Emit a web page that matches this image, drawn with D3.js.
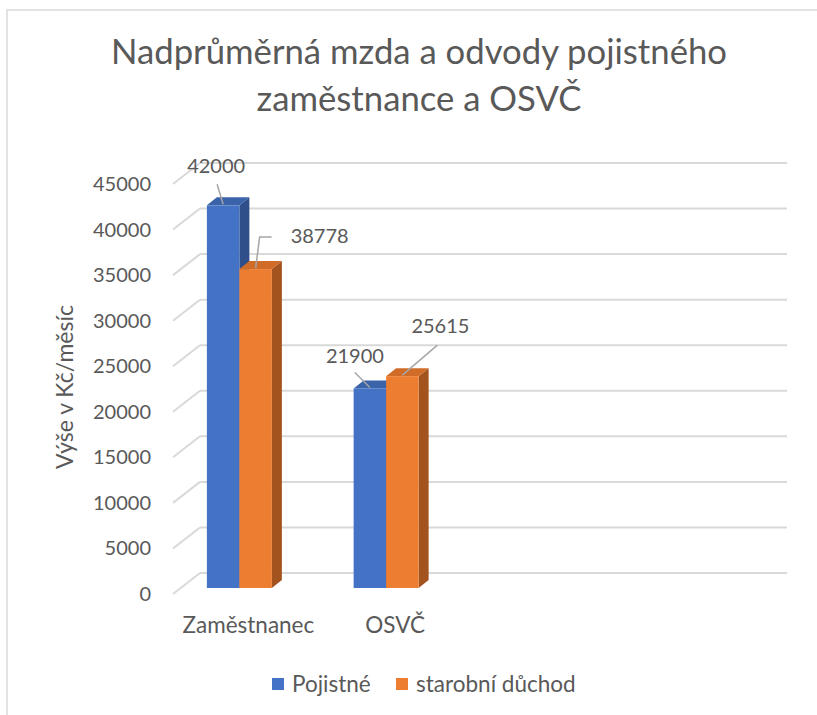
<!DOCTYPE html>
<html>
<head>
<meta charset="utf-8">
<script src="https://cdn.jsdelivr.net/npm/d3@7"></script>
<style>
  body { margin: 0; background: #fff; }
  svg text { font-family: Lato, "Open Sans", sans-serif; fill: #595959; }
</style>
</head>
<body>
<svg id="chart" width="817" height="715"></svg>
<script>
// data
const categories = ["Zaměstnanec", "OSVČ"];
const seriesNames = ["Pojistné", "starobní důchod"];
const pojistne = [42000, 21900];
const duchod = [35000, 23250];
// data labels as printed on the chart
const pojistneLabels = ["42000", "21900"];
const duchodLabels = ["38778", "25615"];
const yTicks = [0, 5000, 10000, 15000, 20000, 25000, 30000, 35000, 40000, 45000];

const colors = {
  "Pojistné": { front: "#4472C4", top: "#3B63AA", side: "#2E4F8A" },
  "starobní důchod": { front: "#ED7D31", top: "#D16B28", side: "#A3531E" },
};

// label placement relative to top-front centre of its bar (leader points, text centre)
const labelLayout = [
  [{ leader: [[0, -1], [-6, -21]], text: [-7, -39] }, { leader: [[0, -1], [-15, -16]], text: [-15, -32] }],
  [{ leader: [[0, -1], [4, -32], [16, -32]], text: [64, -33] }, { leader: [[0, -1], [35, -31]], text: [38, -50] }],
];

const svg = d3.select("#chart");

// frame of the chart area
svg.append("path")
  .attr("d", "M7,716 V10 H818")
  .attr("fill", "none")
  .attr("stroke", "#D9D9D9")
  .attr("stroke-width", 1.5);

// title
const title = svg.append("text")
  .attr("text-anchor", "middle")
  .style("font-size", "34.7px");
title.append("tspan").attr("x", 419).attr("y", 64).text("Nadprůměrná mzda a odvody pojistného");
title.append("tspan").attr("x", 419).attr("y", 111).text("zaměstnance a OSVČ");

// geometry: back wall and depth offsets
const wall = { left: 200, right: 787, bottom: 573, top: 163 };
const depth = { dx: -27, dy: 21 };     // from back wall to front edge of floor
const barDepth = { dx: 10, dy: -8 };    // side face of a bar

const y = d3.scaleLinear().domain([0, 45000]).range([wall.bottom, wall.top]);
const bandW = (wall.right - wall.left) / 4;
const x = d3.scaleBand().domain(categories).range([wall.left + depth.dx, wall.left + depth.dx + bandW * categories.length]);
const xSub = d3.scaleBand().domain(seriesNames).range([0, 65]);

// gridlines: back wall and side wall
const grid = svg.append("g").attr("stroke", "#D9D9D9").attr("stroke-width", 2).attr("fill", "none");
grid.selectAll("line.back")
  .data(yTicks)
  .join("line")
  .attr("class", "back")
  .attr("x1", wall.left).attr("x2", wall.right)
  .attr("y1", (d) => y(d)).attr("y2", (d) => y(d));
grid.selectAll("line.side")
  .data(yTicks)
  .join("line")
  .attr("class", "side")
  .attr("x1", wall.left + depth.dx).attr("x2", wall.left)
  .attr("y1", (d) => y(d) + depth.dy).attr("y2", (d) => y(d));

// y tick labels
svg.append("g")
  .selectAll("text")
  .data(yTicks)
  .join("text")
  .attr("x", 151)
  .attr("y", (d) => y(d) + depth.dy)
  .attr("dy", "0.35em")
  .attr("text-anchor", "end")
  .style("font-size", "20px")
  .text((d) => d);

// y axis title
svg.append("text")
  .attr("transform", "translate(65,387) rotate(-90)")
  .attr("text-anchor", "middle")
  .attr("dy", "0.35em")
  .style("font-size", "23px")
  .text("Výše v Kč/měsíc");

// category labels
svg.append("g")
  .selectAll("text")
  .data(categories)
  .join("text")
  .attr("x", (d) => x(d) + x.bandwidth() / 2 + 2)
  .attr("y", 625)
  .attr("dy", "0.35em")
  .attr("text-anchor", "middle")
  .style("font-size", "22.5px")
  .text((d) => d);

// bars
const barOffset = 15; // front face of bars sits this far below the wall line
const barData = [];
seriesNames.forEach((s, si) => {
  const vals = si === 0 ? pojistne : duchod;
  const labs = si === 0 ? pojistneLabels : duchodLabels;
  categories.forEach((c, ci) => {
    const x0 = x(c) + x.bandwidth() / 2 - 7 - 32.5 + xSub(s);
    barData.push({
      series: s, si, ci,
      value: vals[ci], label: labs[ci],
      x0, w: xSub.bandwidth(),
      yTop: y(vals[ci]) + barOffset,
      yBot: y(0) + barOffset,
    });
  });
});

const bars = svg.append("g");
barData.forEach((b) => {
  const c = colors[b.series];
  const g = bars.append("g");
  const x1 = b.x0 + b.w;
  g.append("path")
    .attr("d", `M${x1},${b.yTop} L${x1 + barDepth.dx},${b.yTop + barDepth.dy} L${x1 + barDepth.dx},${b.yBot + barDepth.dy} L${x1},${b.yBot} Z`)
    .attr("fill", c.side);
  g.append("path")
    .attr("d", `M${b.x0},${b.yTop} L${b.x0 + barDepth.dx},${b.yTop + barDepth.dy} L${x1 + barDepth.dx},${b.yTop + barDepth.dy} L${x1},${b.yTop} Z`)
    .attr("fill", c.top);
  g.append("rect")
    .attr("x", b.x0).attr("y", b.yTop)
    .attr("width", b.w).attr("height", b.yBot - b.yTop)
    .attr("fill", c.front);
});

// data labels with leader lines
const labels = svg.append("g");
barData.forEach((b) => {
  const lay = labelLayout[b.si][b.ci];
  const cx = b.x0 + b.w / 2, cy = b.yTop;
  labels.append("polyline")
    .attr("points", lay.leader.map((p) => `${cx + p[0]},${cy + p[1]}`).join(" "))
    .attr("fill", "none")
    .attr("stroke", "#A6A6A6")
    .attr("stroke-width", 1.5);
  labels.append("text")
    .attr("x", cx + lay.text[0])
    .attr("y", cy + lay.text[1])
    .attr("dy", "0.35em")
    .attr("text-anchor", "middle")
    .style("font-size", "20px")
    .text(b.label);
});

// legend
const legendX = [272, 396];
const legend = svg.append("g")
  .selectAll("g")
  .data(seriesNames)
  .join("g")
  .attr("transform", (d, i) => `translate(${legendX[i]},684)`);
legend.append("rect")
  .attr("x", 0).attr("y", -6)
  .attr("width", 12).attr("height", 12)
  .attr("fill", (d) => colors[d].front);
legend.append("text")
  .attr("x", 20)
  .attr("dy", "0.35em")
  .style("font-size", "22.5px")
  .text((d) => d);
</script>
</body>
</html>
